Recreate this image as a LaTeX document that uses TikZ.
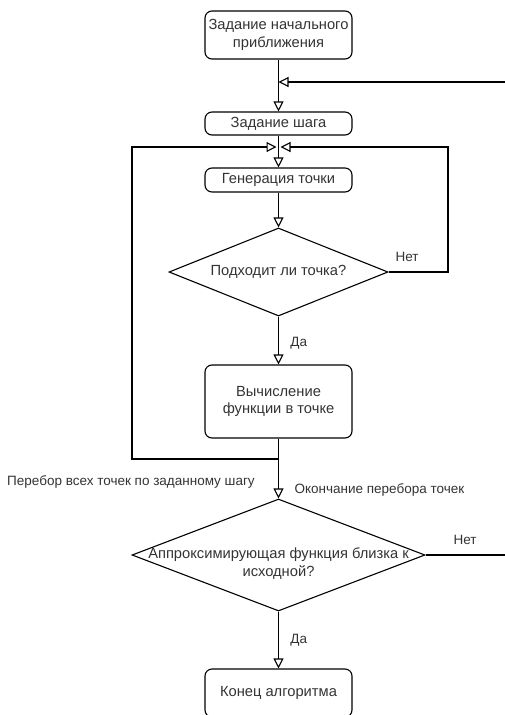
\documentclass[tikz,border=0pt]{standalone}
\usepackage{fontspec}
\setmainfont{Liberation Sans}
\usepackage{tikz}
\usetikzlibrary{arrows.meta,positioning,shapes.geometric,calc}
\definecolor{boxtext}{HTML}{333333}
\tikzset{
  procbox/.style={draw, rounded corners=7pt, line width=1.1pt, align=center,
    minimum width=147pt, text=boxtext, font=\fontsize{14.7}{17.5}\selectfont},
  decision/.style={diamond, draw, line width=1.1pt, align=center, inner sep=0pt,
    text=boxtext, font=\fontsize{14.7}{17.5}\selectfont},
  arr/.style={-{Triangle[open, length=10pt, width=10pt]}, line width=1.1pt},
  line/.style={line width=1.1pt},
  edgelabel/.style={font=\fontsize{13.5}{16}\selectfont, text=boxtext}
}
\begin{document}
\begin{tikzpicture}[x=1pt,y=-1pt]
        \clip (0,0) rectangle (505,715);
        \node[procbox, minimum height=48pt] (init) at (278.5,35) {Задание начального\\приближения};
        \node[procbox, minimum height=23pt] (setstep) at (278.5,123.5) {Задание шага};
        \node[procbox, minimum height=24pt] (gen) at (278.5,180) {Генерация точки};
        \node[decision, aspect=2.49, minimum width=219pt, minimum height=88pt] (check) at (278.5,272) {Подходит ли точка?};
        \node[procbox, minimum height=73pt] (calc) at (278.5,401.5) {Вычисление\\функции в точке};
        \node[decision, minimum width=293pt, minimum height=112pt,
          label={[align=center, text=boxtext, font=\fontsize{14.7}{17.5}\selectfont, yshift=-8.5pt]center:Аппроксимирующая функция близка к\\исходной?}] (close) at (278.5,555) {};
        \node[procbox, minimum height=48pt] (finish) at (278.5,693) {Конец алгоритма};
        \coordinate (retin) at (505,82);
        \coordinate (merge) at (278.5,147);
        \coordinate (leftloop) at (132,459);
        \coordinate (rightloop) at (448,272);
        \coordinate (exitno) at (505,555);
        \draw[arr] (init) -- (setstep);
        \draw[arr] (retin) -- (init.south |- retin);
        \draw[arr] (setstep) -- (gen);
        \draw[arr] (gen) -- (check);
        \draw[arr] (check.east) -- (rightloop) |- ([xshift=2pt]merge);
        \draw[arr] (check) -- node[edgelabel, right=8pt, pos=0.55] {Да} (calc);
        \draw[arr] (calc.south) |- (leftloop) |- ([xshift=-2pt]merge);
        \draw[arr] (calc) -- (close);
        \draw[line] (close.east) -- (exitno);
        \draw[arr] (close) -- node[edgelabel, right=8pt, pos=0.5] {Да} (finish);
        \node[edgelabel] (noone) at (407,257) {Нет};
        \node[edgelabel] (notwo) at (465,540) {Нет};
        \node[edgelabel] (sweep) at (131,482) {Перебор всех точек по заданному шагу};
        \node[edgelabel, anchor=west] (sweepend) at (291,490) {Окончание перебора точек};
      \end{tikzpicture}
\end{document}
